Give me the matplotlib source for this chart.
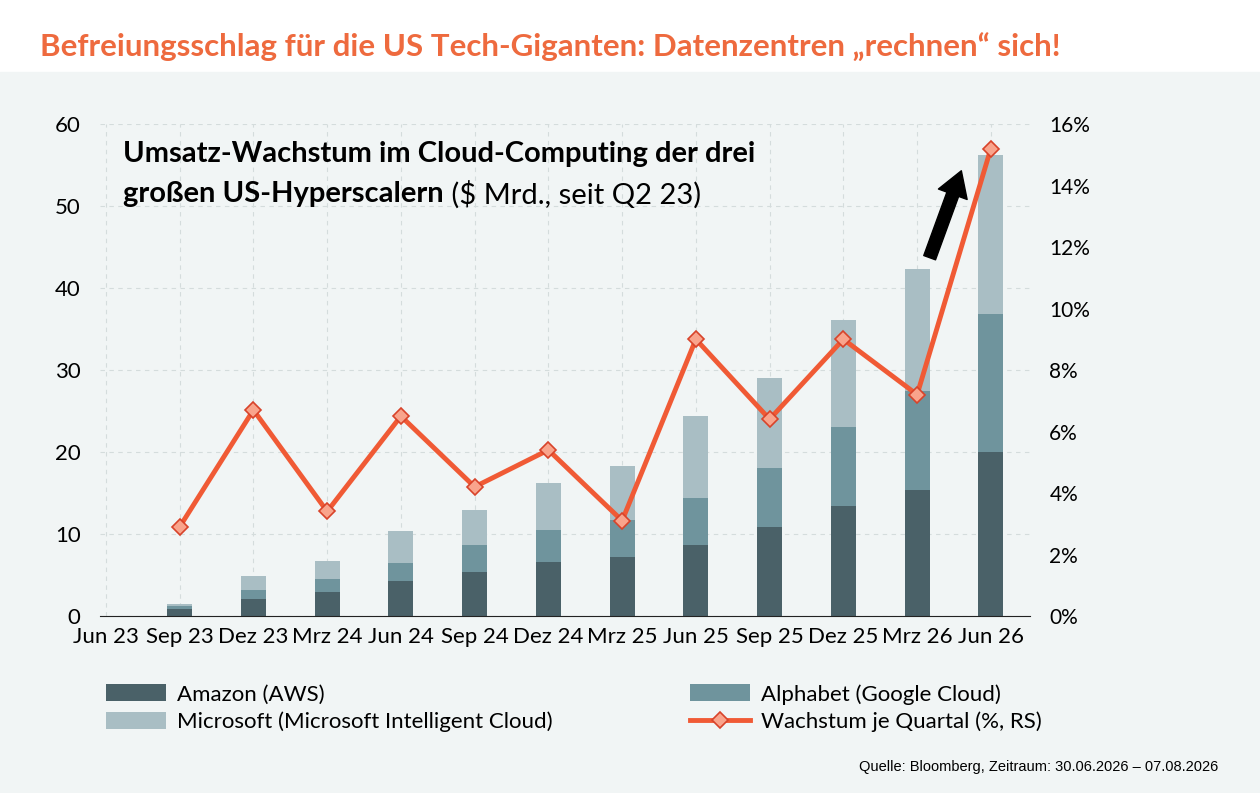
import matplotlib
matplotlib.use("Agg")
import matplotlib.pyplot as plt
import numpy as np

labels = ["Jun 23","Sep 23","Dez 23","Mrz 24","Jun 24","Sep 24","Dez 24","Mrz 25","Jun 25","Sep 25","Dez 25","Mrz 26","Jun 26"]
amazon = [0, 0.8, 2.1, 2.9, 4.3, 5.4, 6.6, 7.2, 8.7, 10.9, 13.4, 15.4, 20.0]
alphabet_top = [0, 1.2, 3.2, 4.5, 6.5, 8.7, 10.5, 11.7, 14.4, 18.0, 23.0, 27.5, 36.8]
total = [0, 1.5, 4.9, 6.7, 10.4, 12.9, 16.2, 18.3, 24.4, 29.0, 36.1, 42.3, 56.2]
growth = [None, 2.9, 6.7, 3.4, 6.5, 4.2, 5.4, 3.1, 9.0, 6.4, 9.0, 7.2, 15.2]

alphabet = [a - b for a, b in zip(alphabet_top, amazon)]
microsoft = [t - a for t, a in zip(total, alphabet_top)]

plt.rcParams['font.family'] = ['Lato', 'DejaVu Sans']
bg = '#f1f5f5'
fig = plt.figure(figsize=(12.6, 7.93), dpi=100)
fig.patch.set_facecolor('white')
fig.patches.append(plt.Rectangle((0, 0), 1, 1 - 72/793, transform=fig.transFigure, color=bg, zorder=-10))
fig.text(0.032, 1 - 47/793, "Befreiungsschlag für die US Tech-Giganten: Datenzentren „rechnen“ sich!",
         color='#ee6a3e', fontsize=22.5, fontweight='bold', va='center')

ax = fig.add_axes([0.0794, 0.2232, 0.738, 0.6204])
ax.set_facecolor(bg)
x = np.arange(len(labels))
w = 0.34
c1, c2, c3 = '#4a6168', '#6f949d', '#a9bec4'
ax.bar(x, amazon, w, color=c1, label='Amazon (AWS)', zorder=2)
ax.bar(x, alphabet, w, bottom=amazon, color=c2, label='Alphabet (Google Cloud)', zorder=2)
ax.bar(x, microsoft, w, bottom=alphabet_top, color=c3, label='Microsoft (Microsoft Intelligent Cloud)', zorder=2)
ax.set_ylim(0, 60)
ax.set_xlim(-0.08, 12.53)
ax.set_xticks(x)
ax.set_xticklabels(labels)
ax.set_yticks(range(0, 61, 10))
ax.tick_params(labelsize=16, length=0, pad=8)
ax.tick_params(axis='y', pad=14)
for s in ['top', 'right', 'left']:
    ax.spines[s].set_visible(False)
ax.spines['bottom'].set_color('#222')
ax.grid(True, ls=(0, (4, 4)), color='#d4dcdc', lw=0.8, zorder=0)

ax2 = ax.twinx()
gx = [i for i, g in enumerate(growth) if g is not None]
gy = [g for g in growth if g is not None]
ax2.plot(gx, gy, color='#f05a35', lw=3.5, marker='D', ms=8, mfc='#f9a48c', mec='#d8432a', mew=1.2,
         label='Wachstum je Quartal (%, RS)', zorder=3)
ax2.set_ylim(0, 16)
ax2.set_yticks(range(0, 17, 2))
ax2.set_yticklabels([f"{v}%" for v in range(0, 17, 2)])
ax2.tick_params(labelsize=15, length=0, pad=14)
for s in ['top', 'right', 'left', 'bottom']:
    ax2.spines[s].set_visible(False)

ax.annotate('', xy=(11.6, 54.3), xytext=(11.17, 43.7),
            arrowprops=dict(facecolor='black', edgecolor='black', width=9, headwidth=22, headlength=18))

ax.text(0.025, 0.965, "Umsatz-Wachstum im Cloud-Computing der drei", transform=ax.transAxes,
        fontsize=21, fontweight='bold', va='top')
t2 = ax.text(0.025, 0.885, "großen US-Hyperscalern", transform=ax.transAxes, fontsize=21, fontweight='bold', va='top')
ax.annotate(" ($ Mrd., seit Q2 23)", xy=(1, 1), xycoords=t2, fontsize=21, va='top', ha='left')

h1, l1 = ax.get_legend_handles_labels()
h2, l2 = ax2.get_legend_handles_labels()
handles = [h1[0], h1[2], h1[1], h2[0]]
lbls = [l1[0], l1[2], l1[1], l2[0]]
fig.legend(handles, lbls, loc='upper left', bbox_to_anchor=(0.068, 1 - 664/793), ncol=2,
           frameon=False, fontsize=16, handlelength=2.7, handleheight=0.8, columnspacing=6.2,
           labelspacing=0.3, handletextpad=0.5)

fig.text(0.967, 1 - 767/793, "Quelle: Bloomberg, Zeitraum: 30.06.2026 – 07.08.2026",
         family='Liberation Sans', fontsize=10.5, ha='right', va='center')

fig.savefig('out.png', dpi=100, facecolor=fig.get_facecolor())
